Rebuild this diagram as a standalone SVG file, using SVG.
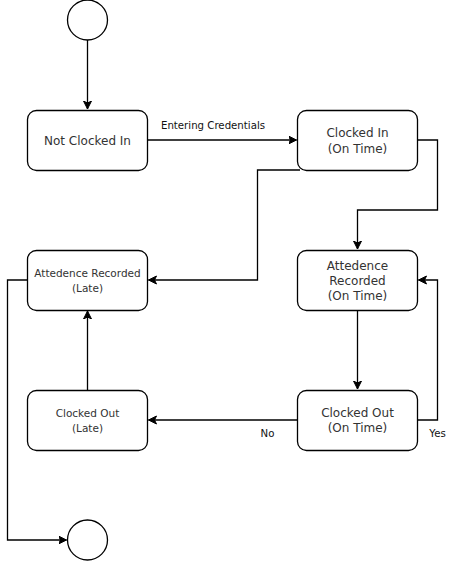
<svg xmlns="http://www.w3.org/2000/svg" width="458" height="561" viewBox="0 0 458 561">
<style>
.node{fill:#fff;stroke:#000;stroke-width:1.3}
.t12{font-family:"DejaVu Sans",sans-serif;font-size:12px;fill:#333;text-anchor:middle}
.t11{font-family:"DejaVu Sans",sans-serif;font-size:10.5px;fill:#333;text-anchor:middle}
.lbl{font-family:"DejaVu Sans",sans-serif;font-size:10.2px;fill:#111;text-anchor:middle}
.edge{fill:none;stroke:#000;stroke-width:1.3;marker-end:url(#arr)}
</style>
<defs>
<marker id="arr" markerWidth="10" markerHeight="10" viewBox="0 0 10 10" refX="8" refY="5" orient="auto" markerUnits="userSpaceOnUse">
<path d="M0,1 L8,5 L0,9 L2,5 z" fill="#000" stroke="#000" stroke-width="1"/>
</marker>
</defs>
<rect width="458" height="561" fill="#fff"/>
<g id="connectors">
<path class="edge" d="M87.5,40 L87.5,109"/>
<path class="edge" d="M147.5,140 L296.5,140"/>
<path class="edge" d="M300,170 L257.5,170 L257.5,280 L148.5,280"/>
<path class="edge" d="M417.5,140 L437.5,140 L437.5,210 L357.5,210 L357.5,249"/>
<path class="edge" d="M357.5,310 L357.5,389"/>
<path class="edge" d="M417.5,420 L437.5,420 L437.5,280 L418.5,280"/>
<path class="edge" d="M297.5,420 L148.5,420"/>
<path class="edge" d="M87.5,390 L87.5,311"/>
<path class="edge" d="M27.5,280 L7.5,280 L7.5,540 L66.5,540"/>
<text class="lbl" x="213" y="129">Entering Credentials</text>
<text class="lbl" x="267.5" y="437">No</text>
<text class="lbl" x="437.5" y="437">Yes</text>
</g>
<g id="start"><circle class="node" cx="87.5" cy="20" r="20"/></g>
<g id="notClockedIn">
<rect class="node" x="27.5" y="110.5" width="120" height="60" rx="9"/>
<text class="t12" x="87.5" y="144.5">Not Clocked In</text>
</g>
<g id="clockedIn">
<rect class="node" x="297.5" y="110.5" width="120" height="60" rx="9"/>
<text class="t12" x="357.5" y="137">Clocked In</text>
<text class="t12" x="357.5" y="152.5">(On Time)</text>
</g>
<g id="attLate">
<rect class="node" x="27.5" y="250.5" width="120" height="60" rx="9"/>
<text class="t11" x="87.5" y="276.5">Attedence Recorded</text>
<text class="t11" x="87.5" y="292">(Late)</text>
</g>
<g id="attOnTime">
<rect class="node" x="297.5" y="250.5" width="120" height="60" rx="9"/>
<text class="t12" x="357.5" y="270">Attedence</text>
<text class="t12" x="357.5" y="284.5">Recorded</text>
<text class="t12" x="357.5" y="299.5">(On Time)</text>
</g>
<g id="clockedOutLate">
<rect class="node" x="27.5" y="390.5" width="120" height="60" rx="9"/>
<text class="t11" x="87.5" y="416.5">Clocked Out</text>
<text class="t11" x="87.5" y="432">(Late)</text>
</g>
<g id="clockedOutOnTime">
<rect class="node" x="297.5" y="390.5" width="120" height="60" rx="9"/>
<text class="t12" x="357.5" y="417">Clocked Out</text>
<text class="t12" x="357.5" y="432">(On Time)</text>
</g>
<g id="end"><circle class="node" cx="87.5" cy="540" r="20"/></g>
</svg>
